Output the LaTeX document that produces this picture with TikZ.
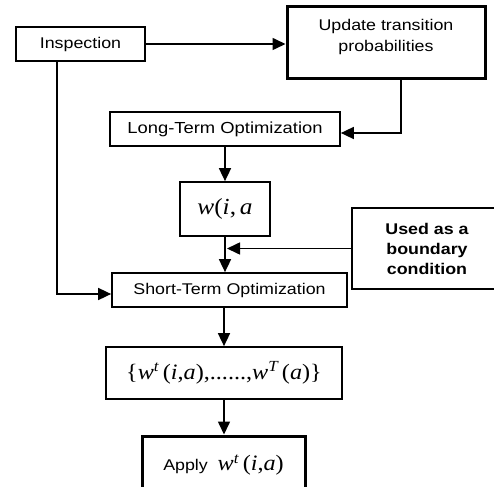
\documentclass[tikz,border=0pt]{standalone}
\usepackage{fontspec}
\setmainfont[FakeStretch=1.1]{Liberation Serif}
\setsansfont[FakeStretch=1.15]{Liberation Sans}
\usetikzlibrary{arrows.meta}
\tikzset{
  fbox/.style={draw, line width=1.7pt, inner sep=0pt, align=center,
    font=\sffamily\fontsize{15.5}{21}\selectfont},
  tbox/.style={fbox, line width=3pt},
  farrow/.style={-{Triangle[length=13pt,width=12pt]}, line width=1.6pt}
}
\newcommand{\mv}[1]{{\rmfamily\itshape #1}}
\begin{document}
\begin{tikzpicture}[x=1pt, y=-1pt]
    \path[use as bounding box, clip] (0,0) rectangle (494,486);
    \node[fbox, minimum width=129pt, minimum height=34pt] (insp) at (80.5,44) {Inspection};
    \node[tbox, minimum width=198pt, minimum height=72pt] (upd) at (386,43) {Update transition\\probabilities\\[-6pt]\mbox{}};
    \node[fbox, minimum width=230pt, minimum height=34pt, font=\sffamily\fontsize{16}{21}\selectfont] (lto) at (225,129) {Long-Term Optimization};
    \node[fbox, minimum width=90pt, minimum height=54pt] (wbox) at (225,209) {\rmfamily\fontsize{23}{26}\selectfont\mv{w}(\mv{i},\,\mv{a}};
    \node[fbox, minimum width=150pt, minimum height=81pt, font=\sffamily\bfseries\fontsize{15.5}{20}\selectfont] (used) at (427,248.5) {Used as a\\boundary\\condition};
    \node[fbox, minimum width=235pt, minimum height=34pt] (sto) at (229.5,290) {Short-Term Optimization};
    \node[fbox, minimum width=236pt, minimum height=52pt] (set) at (224,373) {\rmfamily\fontsize{22}{26}\selectfont\{\mv{w}\textsuperscript{\mv{t}}\,(\mv{i},\mv{a}),......,\mv{w}\textsuperscript{\mv{T}}\,(\mv{a})\}};
    \node[tbox, minimum width=163pt, minimum height=58pt] (apply) at (223.5,465) {Apply\ \ {\rmfamily\fontsize{22}{26}\selectfont\mv{w}\textsuperscript{\mv{t}}\,(\mv{i},\mv{a})}};
    \draw[farrow] (insp.east) -- (insp.east -| upd.west);
    \draw[farrow] ([xshift=15pt]upd.south) |- ([yshift=-4pt]lto.east);
    \draw[farrow] (wbox.north |- lto.south) -- (wbox.north);
    \draw[farrow] (wbox.south) -- (wbox.south |- sto.north);
    \draw[farrow] (used.west) -- ([xshift=2pt]used.west -| wbox.south);
    \draw[farrow] ([xshift=-23.5pt]insp.south) |- ([yshift=-4pt]sto.west);
    \draw[farrow] (set.north |- sto.south) -- (set.north);
    \draw[farrow] (set.south) -- (set.south |- apply.north);
  \end{tikzpicture}
\end{document}
